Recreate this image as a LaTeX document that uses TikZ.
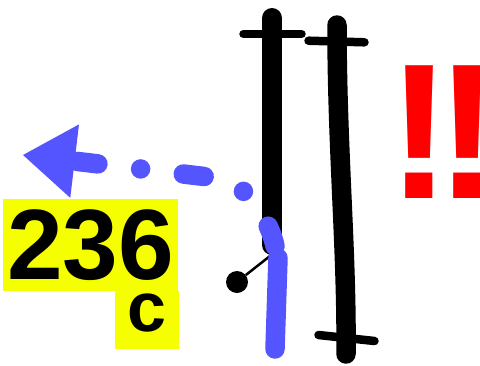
\documentclass[tikz,border=0pt]{standalone}
\usepackage{fontspec}
\setmainfont{Liberation Sans}
\usetikzlibrary{arrows.meta}
\definecolor{routeblue}{RGB}{85,85,255}
\definecolor{signyellow}{RGB}{245,255,0}

\begin{document}
\begin{tikzpicture}[x=1pt,y=-1pt,
  rail/.style={line width=20pt,line cap=round},
  bar/.style={line width=8.5pt,line cap=round},
  route/.style={routeblue,line width=19.5pt,line cap=round},
  numbox/.style={fill=signyellow,inner sep=0pt,text=black}
]
\useasboundingbox (0,0) rectangle (480,365);

% rails and cross bars
\draw[rail] (272,18) -- (272,245);
\draw[bar] (243.5,34) -- (301.5,34);
\draw[rail,line width=19.5pt] (337,25) .. controls (337,150) and (347,250) .. (346,354);
\draw[bar] (308.5,40.7) -- (364.5,42.3);
\draw[bar] (318.5,335) -- (374.5,341);

% small lever
\node[circle,fill,inner sep=0pt,minimum size=22pt] (knob) at (237,282) {};
\coordinate (knobend) at (270,256);
\draw[line width=2.5pt] (knob) -- (knobend);

% blue route
\coordinate (bendstart) at (275,246);
\coordinate (bendmid) at (217,178);
\coordinate (arrowtip) at (23,155);
\draw[route,dash pattern=on 21pt off 43pt on 0pt off 43pt,
      -{Triangle[length=52pt,width=74pt,line width=0pt]}]
  (bendstart) .. controls (270,222) and (247,182) .. (bendmid) -- (arrowtip);
\coordinate (droptop) at (278,258);
\coordinate (dropbot) at (275,349);
\draw[route] (droptop) -- (dropbot);

% labels
\node[numbox,minimum width=175pt,minimum height=92pt,
      font=\bfseries\fontsize{100}{100}\selectfont] (num) at (90.5,245) {236};
\node[numbox,minimum width=64pt,minimum height=58pt,text depth=15pt,
      font=\bfseries\fontsize{70}{70}\selectfont] (sub) at (147,320) {c};
\node[text=red,inner sep=0pt,anchor=base west,
      font=\bfseries\fontsize{193}{193}\selectfont] (alarm) at (387,198) {!\kern-16pt!};
\end{tikzpicture}
\end{document}
